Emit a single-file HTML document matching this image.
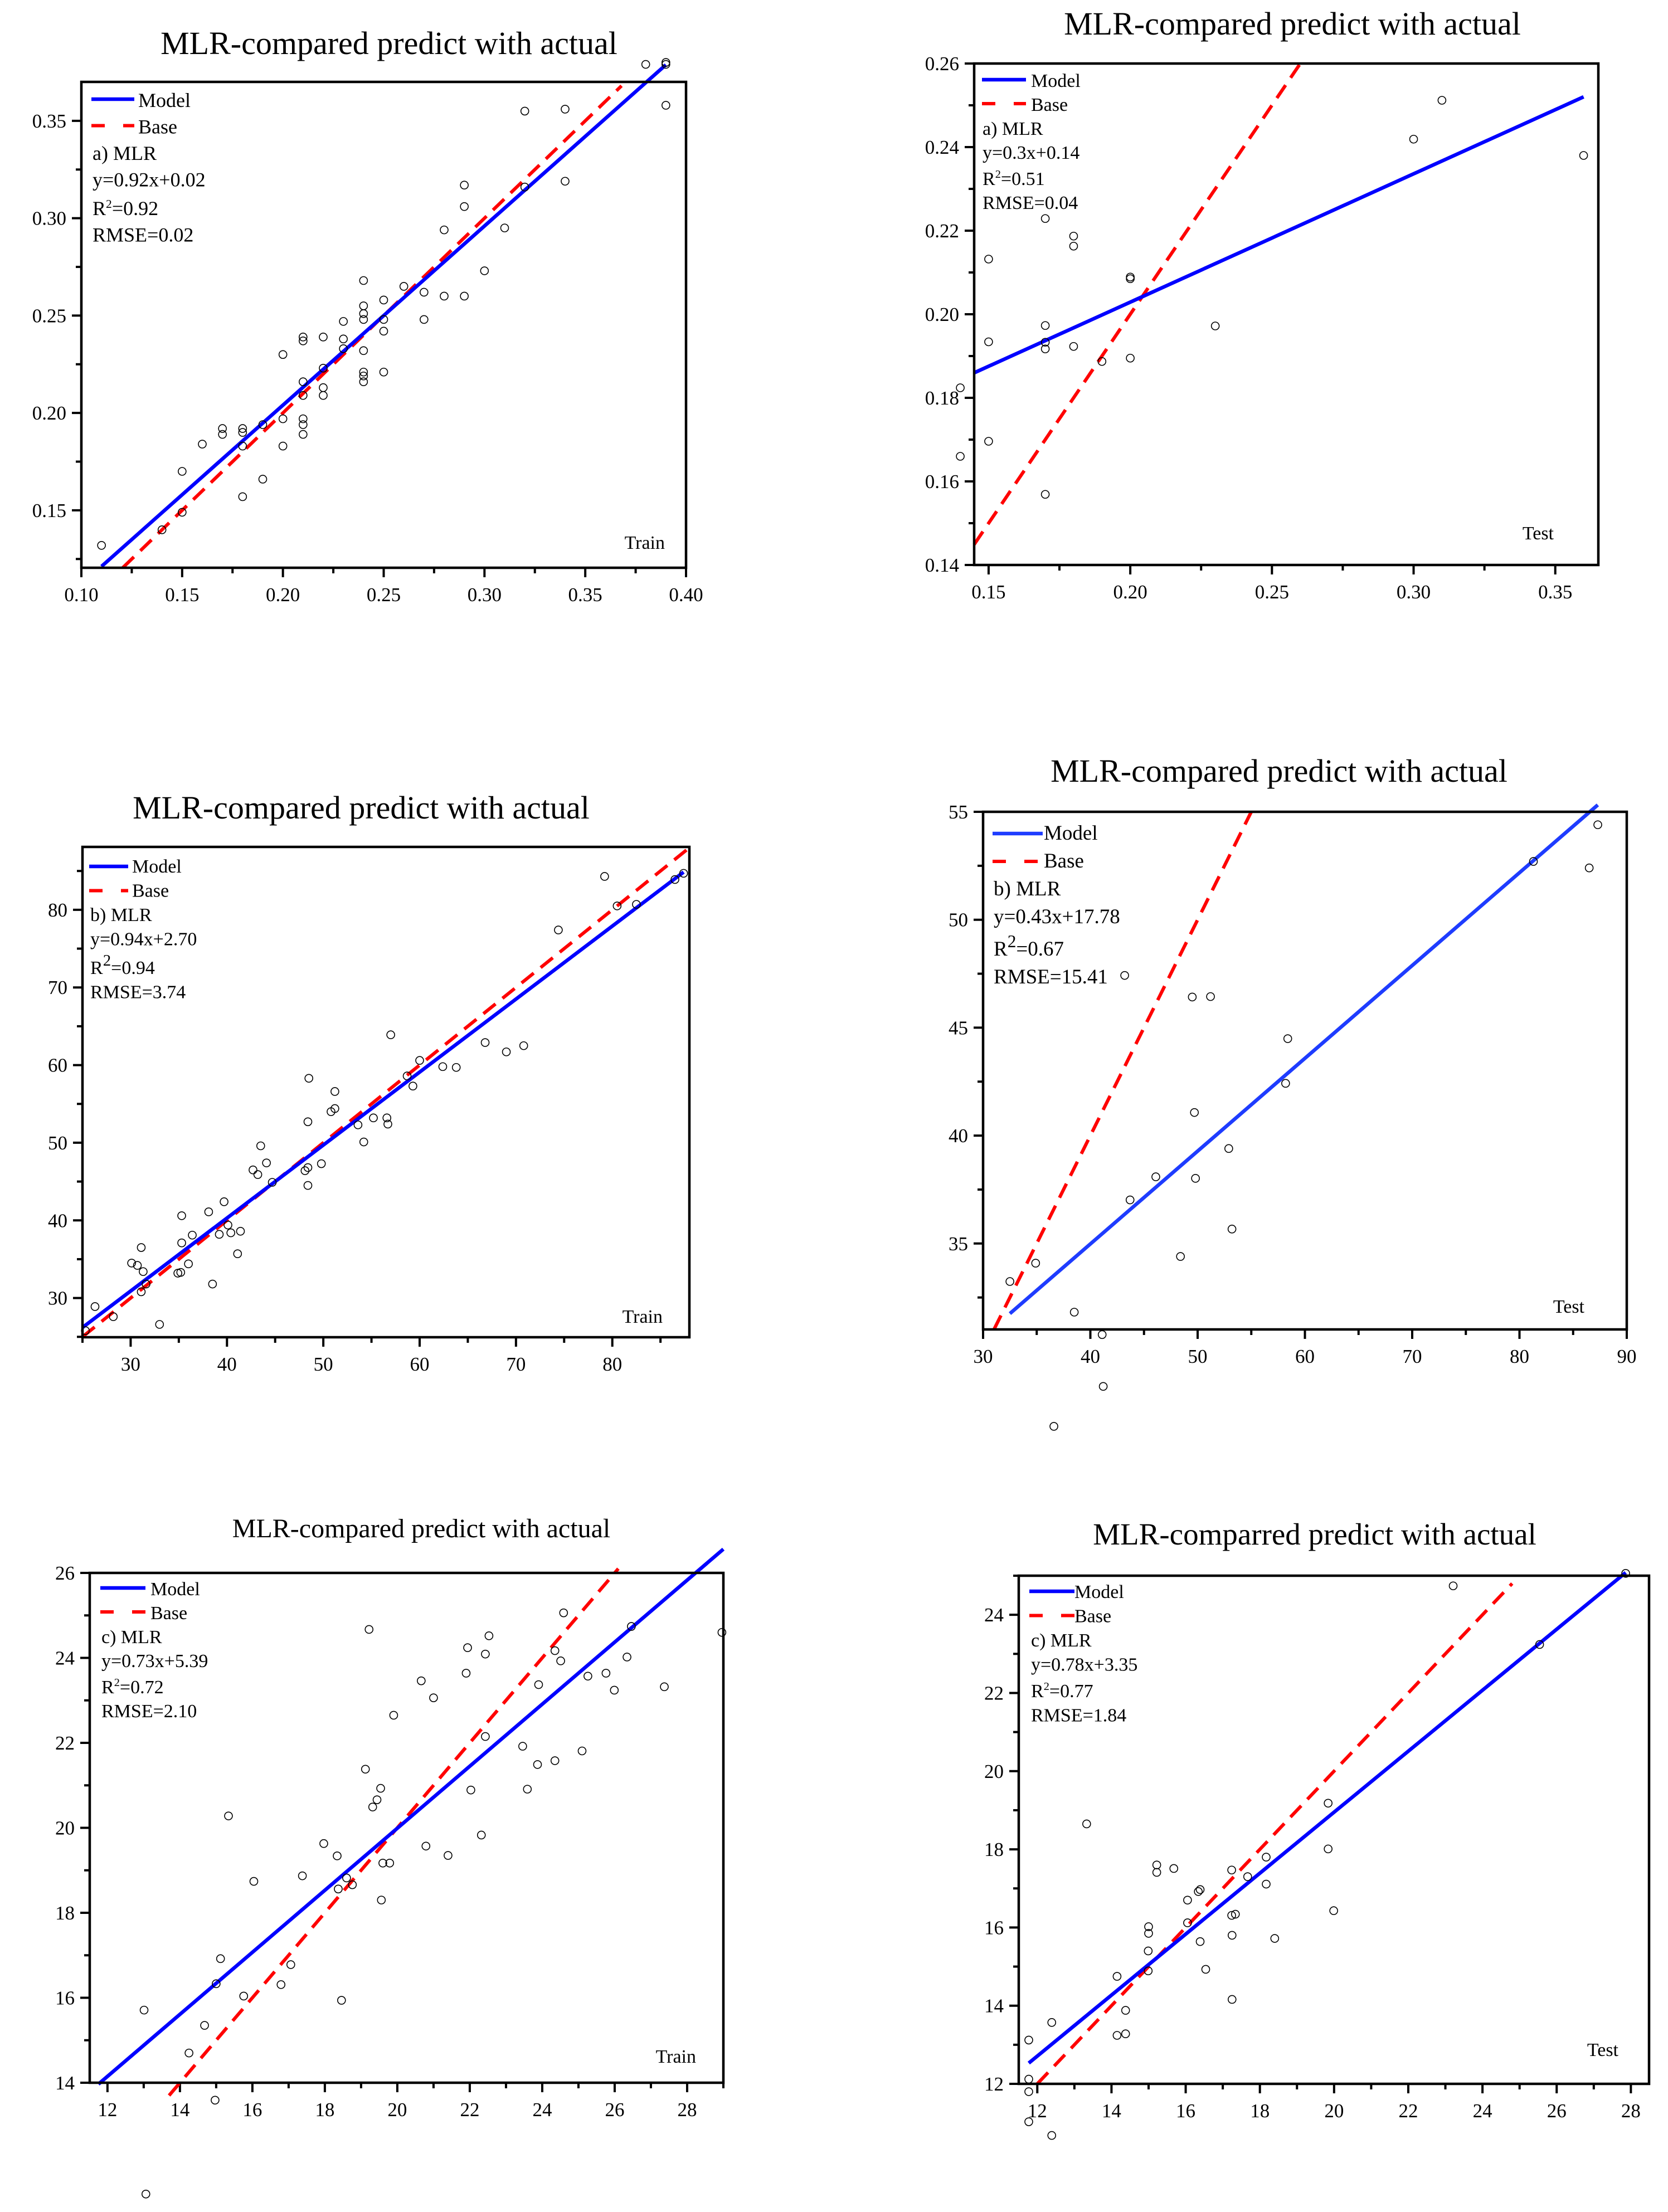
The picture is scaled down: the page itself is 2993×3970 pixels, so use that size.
<!DOCTYPE html>
<html><head><meta charset="utf-8"><style>
html,body{margin:0;padding:0;background:#fff;}
svg{display:block;font-family:"Liberation Serif","Times New Roman",serif;}
svg text{font-family:"Liberation Serif","Times New Roman",serif;}
</style></head><body>
<svg id="fig" width="2993" height="3970" viewBox="0 0 2993 3970" xmlns="http://www.w3.org/2000/svg" font-family="Liberation Serif, serif">
<rect x="0" y="0" width="2993" height="3970" fill="#fff"/>
</svg>
<script>
// ---- Panel 1 (a, train) ----
const p1X=[0.11,0.14,0.15,0.15,0.16,0.17,0.17,0.18,0.18,0.18,0.18,0.19,0.19,0.20,0.20,0.20,0.21,0.21,0.21,0.21,0.21,0.21,0.21,0.22,0.22,0.22,0.22,0.23,0.23,0.23,0.24,0.24,0.24,0.24,0.24,0.24,0.24,0.24,0.25,0.25,0.25,0.25,0.26,0.27,0.27,0.28,0.28,0.29,0.29,0.29,0.30,0.31,0.32,0.32,0.34,0.34,0.38,0.39,0.39,0.39];
const p1Y=[0.132,0.140,0.170,0.149,0.184,0.192,0.189,0.192,0.190,0.183,0.157,0.194,0.166,0.230,0.197,0.183,0.239,0.237,0.216,0.209,0.197,0.194,0.189,0.239,0.223,0.213,0.209,0.247,0.238,0.233,0.268,0.255,0.251,0.248,0.232,0.221,0.219,0.216,0.258,0.248,0.242,0.221,0.265,0.262,0.248,0.294,0.260,0.317,0.306,0.260,0.273,0.295,0.355,0.316,0.356,0.319,0.379,0.380,0.379,0.358];
const p1XTicks=[0.10,0.15,0.20,0.25,0.30,0.35,0.40];
const p1XLabels=["0.10","0.15","0.20","0.25","0.30","0.35","0.40"];
const p1YTicks=[0.15,0.20,0.25,0.30,0.35];
const p1YLabels=["0.15","0.20","0.25","0.30","0.35"];
const p1Fit=[0.92,0.02]; const p1FitRange=[0.11,0.39]; const p1BaseRange=[0.1205,0.368];
// ---- Panel 2 (a, test) ----
const p2X=[0.140,0.140,0.15,0.15,0.15,0.17,0.17,0.17,0.17,0.17,0.18,0.18,0.18,0.19,0.20,0.20,0.20,0.23,0.30,0.31,0.36];
const p2Y=[0.1824,0.166,0.2132,0.1934,0.1696,0.2229,0.1973,0.1933,0.1917,0.1569,0.2187,0.2163,0.1923,0.1887,0.2089,0.2085,0.1895,0.1972,0.2419,0.2512,0.238];
const p2XTicks=[0.15,0.20,0.25,0.30,0.35];
const p2XLabels=["0.15","0.20","0.25","0.30","0.35"];
const p2YTicks=[0.14,0.16,0.18,0.20,0.22,0.24,0.26];
const p2YLabels=["0.14","0.16","0.18","0.20","0.22","0.24","0.26"];
const p2Fit=[0.307,0.1415]; const p2FitRange=[0.1449,0.36]; const p2BaseRange=[0.1449,0.26];
// ---- Panel 3 (b, train) ----
const p3X=[25.3,26.3,28.2,30.1,30.7,31.1,31.3,31.1,31.6,33.0,34.9,35.2,35.3,35.3,36.0,36.4,38.1,38.5,39.2,39.7,40.1,40.4,41.1,41.4,42.7,43.2,43.5,44.1,44.7,48.1,48.4,48.4,48.4,48.5,49.8,50.8,51.2,51.2,53.6,54.2,55.2,56.6,56.7,57.0,58.7,59.3,60.0,62.4,63.8,66.8,69.0,70.8,74.4,79.2,80.5,82.5,86.5,87.4];
const p3Y=[25.8,28.9,27.6,34.5,34.2,36.5,33.4,30.8,31.8,26.6,33.2,33.3,40.6,37.1,34.4,38.1,41.1,31.8,38.2,42.4,39.4,38.4,35.7,38.6,46.5,45.9,49.6,47.4,44.9,46.4,46.8,44.5,52.7,58.3,47.3,54.0,54.4,56.6,52.3,50.1,53.2,53.2,52.4,63.9,58.6,57.3,60.6,59.8,59.7,62.9,61.7,62.5,77.4,84.3,80.5,80.7,83.9,84.7];
const p3XTicks=[30,40,50,60,70,80];
const p3XLabels=["30","40","50","60","70","80"];
const p3YTicks=[30,40,50,60,70,80];
const p3YLabels=["30","40","50","60","70","80"];
const p3Fit=[0.94,2.70]; const p3FitRange=[25,87.4]; const p3BaseRange=[25,88];
// ---- Panel 4 (b, test) ----
const p4X=[32.5,34.9,38.5,41.1,41.2,36.6,43.2,43.7,46.1,48.4,49.5,49.7,49.8,51.2,52.9,53.2,58.2,58.4,81.3,86.5,87.3];
const p4Y=[33.24,34.09,31.82,30.78,28.38,26.53,47.42,37.02,38.09,34.4,46.42,41.07,38.02,46.44,39.4,35.67,42.42,44.49,52.7,52.4,54.4];
const p4XTicks=[30,40,50,60,70,80,90];
const p4XLabels=["30","40","50","60","70","80","90"];
const p4YTicks=[35,40,45,50,55];
const p4YLabels=["35","40","45","50","55"];
const p4Fit=[0.43,17.78]; const p4FitRange=[32.5,87.3]; const p4BaseRange=[31.02,55];
// ---- Panel 5 (c, train) ----
const p5X=[13.01,13.06,14.25,14.68,14.97,15.0,15.12,15.34,15.76,16.04,16.79,17.06,17.38,17.97,18.34,18.37,18.46,18.60,18.76,19.12,19.22,19.32,19.44,19.54,19.56,19.60,19.79,19.90,20.66,20.79,21.0,21.40,21.90,21.94,22.03,22.32,22.43,22.43,22.53,23.46,23.59,23.87,23.90,24.35,24.35,24.51,24.59,25.10,25.26,25.76,25.99,26.34,26.46,27.37,28.96];
const p5Y=[15.71,11.38,14.70,15.35,13.59,16.33,16.92,20.28,16.04,18.74,16.31,16.78,18.87,19.63,19.34,18.56,15.94,18.82,18.66,21.38,24.67,20.49,20.66,20.93,18.30,19.17,19.17,22.65,23.46,19.57,23.06,19.35,23.64,24.24,20.89,19.83,24.09,22.15,24.52,21.92,20.91,21.49,23.37,24.17,21.58,23.93,25.06,21.81,23.57,23.64,23.24,24.02,24.74,23.32,24.60];
const p5XTicks=[12,14,16,18,20,22,24,26,28];
const p5XLabels=["12","14","16","18","20","22","24","26","28"];
const p5YTicks=[14,16,18,20,22,24,26];
const p5YLabels=["14","16","18","20","22","24","26"];
const p5Fit=[0.73,5.39]; const p5FitRange=[11.75,29]; const p5BaseRange=[13.7,26.1];
// ---- Panel 6 (c, test) ----
const p6X=[11.77,11.77,11.77,11.77,12.39,12.39,13.33,14.15,14.15,14.38,14.38,14.99,14.99,15.0,15.0,15.22,15.22,15.68,16.05,16.05,16.34,16.39,16.39,16.54,17.24,17.24,17.34,17.25,17.25,17.67,18.17,18.17,18.40,19.84,19.84,19.99,23.21,25.54,27.86];
const p6Y=[13.12,12.12,11.80,11.03,13.57,10.68,18.65,14.75,13.24,13.88,13.28,15.40,14.89,16.02,15.85,17.60,17.41,17.51,16.70,16.12,16.92,16.97,15.64,14.93,17.47,16.31,16.34,15.80,14.16,17.30,17.80,17.11,15.72,19.18,18.01,16.43,24.74,23.24,25.06];
const p6XTicks=[12,14,16,18,20,22,24,26,28];
const p6XLabels=["12","14","16","18","20","22","24","26","28"];
const p6YTicks=[12,14,16,18,20,22,24];
const p6YLabels=["12","14","16","18","20","22","24"];
const p6Fit=[0.78,3.35]; const p6FitRange=[11.77,27.86]; const p6BaseRange=[12,24.8];

const NS="http://www.w3.org/2000/svg";
const svg=document.getElementById('fig');
function mk(tag,attrs,parent){const e=document.createElementNS(NS,tag);for(const k in attrs)e.setAttribute(k,attrs[k]);(parent||svg).appendChild(e);return e;}

const panels=[
 {id:'p1',L:146,R:1231,T:147,B:1019,xd:[0.10,0.40],yd:[0.1205,0.370],X:p1X,Y:p1Y,xt:p1XTicks,xl:p1XLabels,yt:p1YTicks,yl:p1YLabels,xm:0.025,ym:0.025,fit:p1Fit,fr:p1FitRange,br:p1BaseRange,
  title:"MLR-compared predict with actual",tx:698,ty:97,ts:58,lg:{x0:18,x1:95,y0:31,tx:102,ax:20,r0:45,sp:47.5,fs:36},ann:["a) MLR","y=0.92x+0.02","0.92","RMSE=0.02"],corner:"Train",cx:1193,cy:985,blue:"#0000ff"},
 {id:'p2',L:1748,R:2868,T:114,B:1014,xd:[0.1449,0.3652],yd:[0.14,0.26],X:p2X,Y:p2Y,xt:p2XTicks,xl:p2XLabels,yt:p2YTicks,yl:p2YLabels,xm:0.025,ym:0.01,fit:p2Fit,fr:p2FitRange,br:p2BaseRange,
  title:"MLR-compared predict with actual",tx:2319,ty:62,ts:58,lg:{x0:14,x1:93,y0:29,tx:102,ax:15,r0:42,sp:43,fs:34},ann:["a) MLR","y=0.3x+0.14","0.51","RMSE=0.04"],corner:"Test",cx:2788,cy:968,blue:"#0000ff"},
 {id:'p3',L:148,R:1237,T:1520,B:2400,xd:[25,88],yd:[24.95,88.1],X:p3X,Y:p3Y,xt:p3XTicks,xl:p3XLabels,yt:p3YTicks,yl:p3YLabels,xm:5,ym:5,fit:p3Fit,fr:p3FitRange,br:p3BaseRange,
  title:"MLR-compared predict with actual",tx:648,ty:1469,ts:58,lg:{x0:12,x1:82,y0:35,tx:89,ax:14,r0:46,sp:43.5,fs:34},ann:["b) MLR","y=0.94x+2.70","0.94","RMSE=3.74"],corner:"Train",cx:1189,cy:2374,blue:"#0000ff",bigR:true},
 {id:'p4',L:1764,R:2919,T:1457,B:2386,xd:[30,90],yd:[31.02,55],X:p4X,Y:p4Y,xt:p4XTicks,xl:p4XLabels,yt:p4YTicks,yl:p4YLabels,xm:5,ym:2.5,fit:p4Fit,fr:p4FitRange,br:p4BaseRange,
  title:"MLR-compared predict with actual",tx:2295,ty:1403,ts:58,lg:{x0:17,x1:107,y0:39,tx:109,ax:19,r0:50,sp:50,fs:37},ann:["b) MLR","y=0.43x+17.78","0.67","RMSE=15.41"],corner:"Test",cx:2843,cy:2356,blue:"#1e3cff",bigR:true},
 {id:'p5',L:161,R:1298,T:2823,B:3738,xd:[11.51,29.0],yd:[14,26],X:p5X,Y:p5Y,xt:p5XTicks,xl:p5XLabels,yt:p5YTicks,yl:p5YLabels,xm:1,ym:1,fit:p5Fit,fr:p5FitRange,br:p5BaseRange,
  title:"MLR-compared predict with actual",tx:756,ty:2759,ts:48,lg:{x0:19,x1:100,y0:27,tx:109,ax:21,r0:40,sp:43,fs:34},ann:["c) MLR","y=0.73x+5.39","0.72","RMSE=2.10"],corner:"Train",cx:1249,cy:3702,blue:"#0000ff"},
 {id:'p6',L:1828,R:2959,T:2828,B:3740,xd:[11.5,28.49],yd:[12,25],X:p6X,Y:p6Y,xt:p6XTicks,xl:p6XLabels,yt:p6YTicks,yl:p6YLabels,xm:1,ym:1,fit:p6Fit,fr:p6FitRange,br:p6BaseRange,
  title:"MLR-comparred predict with actual",tx:2359,ty:2772,ts:55,lg:{x0:19,x1:100,y0:28,tx:100,ax:22,r0:40,sp:43.5,fs:34},ann:["c) MLR","y=0.78x+3.35","0.77","RMSE=1.84"],corner:"Test",cx:2904,cy:3690,blue:"#0000ff"}
];

panels.forEach(function(p){
  const g=mk('g',{});
  
  
  const sx=v=>p.L+(v-p.xd[0])/(p.xd[1]-p.xd[0])*(p.R-p.L);
  const sy=v=>p.B-(v-p.yd[0])/(p.yd[1]-p.yd[0])*(p.B-p.T);
  const t=mk('text',{x:p.tx,y:p.ty,'text-anchor':'middle','font-size':p.ts,fill:'#000'},g);
  t.textContent=p.title;
  
  
  const eps=1e-9;
  function minorList(d,step){const a=[];let s=Math.ceil((d[0]-eps)/step)*step;for(let v=s;v<=d[1]+eps;v+=step)a.push(v);return a;}
  minorList(p.xd,p.xm).forEach(function(v){
    const isMaj=p.xt.some(m=>Math.abs(m-v)<1e-6);
    const tk=mk('line',{x1:sx(v),x2:sx(v),y1:p.B,y2:p.B+(isMaj?17:10),stroke:'#000','stroke-width':4},g);
    
    
  });
  minorList(p.yd,p.ym).forEach(function(v){
    const isMaj=p.yt.some(m=>Math.abs(m-v)<1e-6);
    const tk=mk('line',{x1:p.L-(isMaj?17:10),x2:p.L,y1:sy(v),y2:sy(v),stroke:'#000','stroke-width':4},g);
    
    
  });
  p.xt.forEach(function(v,i){
    const l=mk('text',{x:sx(v),y:p.B+60,'text-anchor':'middle','font-size':35,fill:'#000'},g);
    l.textContent=p.xl[i];
    
    
  });
  p.yt.forEach(function(v,i){
    const l=mk('text',{x:p.L-27,y:sy(v)+12,'text-anchor':'end','font-size':35,fill:'#000'},g);
    l.textContent=p.yl[i];
    
    
  });
  const base=mk('line',{x1:sx(p.br[0]),y1:sy(p.br[0]),x2:sx(p.br[1]),y2:sy(p.br[1]),stroke:'#ff0000','stroke-width':6,'stroke-dasharray':'28,16'},g);
  
  
  const f=x=>p.fit[0]*x+p.fit[1];
  const mdl=mk('line',{x1:sx(p.fr[0]),y1:sy(f(p.fr[0])),x2:sx(p.fr[1]),y2:sy(f(p.fr[1])),stroke:p.blue,'stroke-width':6.5},g);
  
  
  p.X.forEach(function(x,i){
    const c=mk('circle',{cx:sx(x),cy:sy(p.Y[i]),r:7,fill:'none',stroke:'#000','stroke-width':1.6},g);
    
    
  });
  const fr=mk('rect',{x:p.L,y:p.T,width:p.R-p.L,height:p.B-p.T,fill:'none',stroke:'#000','stroke-width':4.5},g);
  
  
  const lg=p.lg;
  const lm=mk('line',{x1:p.L+lg.x0,x2:p.L+lg.x1,y1:p.T+lg.y0,y2:p.T+lg.y0,stroke:p.blue,'stroke-width':6.5},g);
  
  
  const lb=mk('line',{x1:p.L+lg.x0,x2:p.L+lg.x1,y1:p.T+lg.y0+lg.sp,y2:p.T+lg.y0+lg.sp,stroke:'#ff0000','stroke-width':6,'stroke-dasharray':'24,33'},g);
  
  
  const tm=mk('text',{x:p.L+lg.tx,y:p.T+lg.r0,'font-size':lg.fs,fill:'#000'},g);
  tm.textContent='Model';
  
  
  const tb=mk('text',{x:p.L+lg.tx,y:p.T+lg.r0+lg.sp,'font-size':lg.fs,fill:'#000'},g);
  tb.textContent='Base';
  
  
  const a1=mk('text',{x:p.L+lg.ax,y:p.T+lg.r0+2*lg.sp,'font-size':lg.fs,fill:'#000'},g);
  a1.textContent=p.ann[0];
  
  
  const a2=mk('text',{x:p.L+lg.ax,y:p.T+lg.r0+3*lg.sp,'font-size':lg.fs,fill:'#000'},g);
  a2.textContent=p.ann[1];
  
  
  const rOff=p.bigR?8:4;
  const a3=mk('text',{x:p.L+lg.ax,y:p.T+lg.r0+4*lg.sp+rOff,'font-size':lg.fs,fill:'#000'},g);
  
  
  const s1=mk('tspan',{},a3); s1.textContent='R';
  const s2=mk('tspan',{dy:-(p.bigR?15:13),'font-size':p.bigR?lg.fs*0.85:lg.fs*0.6},a3); s2.textContent='2';
  const s3=mk('tspan',{dy:(p.bigR?15:13)},a3); s3.textContent='='+p.ann[2];
  const a4=mk('text',{x:p.L+lg.ax,y:p.T+lg.r0+5*lg.sp+rOff,'font-size':lg.fs,fill:'#000'},g);
  a4.textContent=p.ann[3];
  
  
  const cn=mk('text',{x:p.cx,y:p.cy,'text-anchor':'end','font-size':34,fill:'#000'},g);
  cn.textContent=p.corner;
  
  
});
</script>
</body></html>
